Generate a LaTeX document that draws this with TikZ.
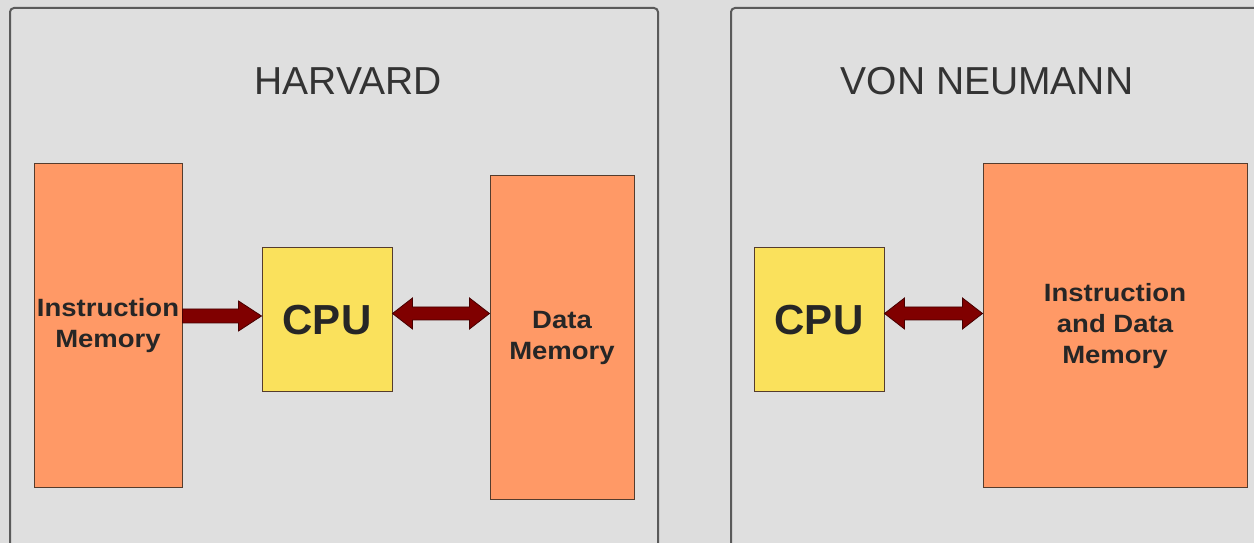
\documentclass[tikz,border=0pt]{standalone}
\usepackage{fontspec}
\setmainfont{Liberation Sans}
\newfontfamily\labelfont[FakeStretch=1.1]{Liberation Sans}
\usetikzlibrary{calc}

\definecolor{bggray}{RGB}{221,221,221}
\definecolor{panelgray}{RGB}{223,223,223}
\definecolor{panelline}{RGB}{90,90,90}
\definecolor{memfill}{RGB}{255,153,102}
\definecolor{cpufill}{RGB}{250,225,92}
\definecolor{boxline}{RGB}{85,60,45}
\definecolor{arrowred}{RGB}{128,0,0}
\definecolor{arrowline}{RGB}{70,0,0}
\definecolor{titletext}{RGB}{51,51,51}
\definecolor{labeltext}{RGB}{38,38,38}

\tikzset{
  panel/.style={draw=panelline, line width=2pt, fill=panelgray, rounded corners=4pt},
  title/.style={font=\fontsize{39}{44}\selectfont, text=titletext},
  membox/.style={draw=boxline, line width=1pt, fill=memfill, inner sep=0pt,
    align=center, text=labeltext,
    font=\labelfont\bfseries\fontsize{25}{31}\selectfont},
  cpubox/.style={draw=boxline, line width=1pt, fill=cpufill, inner sep=0pt,
    text=labeltext, font=\bfseries\fontsize{42}{48}\selectfont},
  fatarrow/.style={draw=arrowline, line width=0.8pt, fill=arrowred, line join=miter},
}

% one-headed block arrow from #1 to #2 (same height)
\newcommand\onearrow[2]{%
  \path[fatarrow] let \p1=#1, \p2=#2 in
    (\x1,\y1+7pt) -- (\x2-23pt,\y1+7pt) -- (\x2-23pt,\y1+15pt) -- (\x2,\y1)
    -- (\x2-23pt,\y1-15pt) -- (\x2-23pt,\y1-7pt) -- (\x1,\y1-7pt) -- cycle;}
% two-headed block arrow between #1 and #2
\newcommand\twoarrow[2]{%
  \path[fatarrow] let \p1=#1, \p2=#2 in
    (\x1,\y1) -- (\x1+20pt,\y1+15.5pt) -- (\x1+20pt,\y1+6.5pt)
    -- (\x2-20pt,\y1+6.5pt) -- (\x2-20pt,\y1+15.5pt) -- (\x2,\y1)
    -- (\x2-20pt,\y1-15.5pt) -- (\x2-20pt,\y1-6.5pt)
    -- (\x1+20pt,\y1-6.5pt) -- (\x1+20pt,\y1-15.5pt) -- cycle;}

\begin{document}
\begin{tikzpicture}[x=1pt, y=1pt]
  \clip (0,0) rectangle (1254,543);
  \fill[bggray] (0,0) rectangle (1254,543);

  % the two panels
  \draw[panel] (10,-20) rectangle (658,535);
  \draw[panel] (731,-20) rectangle (1290,535);

  % Harvard architecture
  \node[title] (th) at (348,462) {HARVARD};
  \node[membox, minimum width=148pt, minimum height=324pt] (im) at (108,217)
    {Instruction\\Memory};
  \node[cpubox, minimum width=130pt, minimum height=144pt] (cpu1) at (327,223) {CPU};
  \node[membox, minimum width=144pt, minimum height=324pt] (dm) at (562,205)
    {Data\\Memory};

  \coordinate (a1) at (0,227);
  \coordinate (a2) at (0,229.5);
  \onearrow{(im.east |- a1)}{(cpu1.west |- a1)}
  \twoarrow{(cpu1.east |- a2)}{(dm.west |- a2)}

  % von Neumann architecture
  \node[title] (tv) at (987,462) {VON NEUMANN};
  \node[cpubox, minimum width=130pt, minimum height=144pt] (cpu2) at (819,223) {CPU};
  \node[membox, minimum width=264pt, minimum height=324pt] (idm) at (1115,217)
    {Instruction\\and Data\\Memory};

  \twoarrow{(cpu2.east |- a2)}{(idm.west |- a2)}
\end{tikzpicture}
\end{document}
